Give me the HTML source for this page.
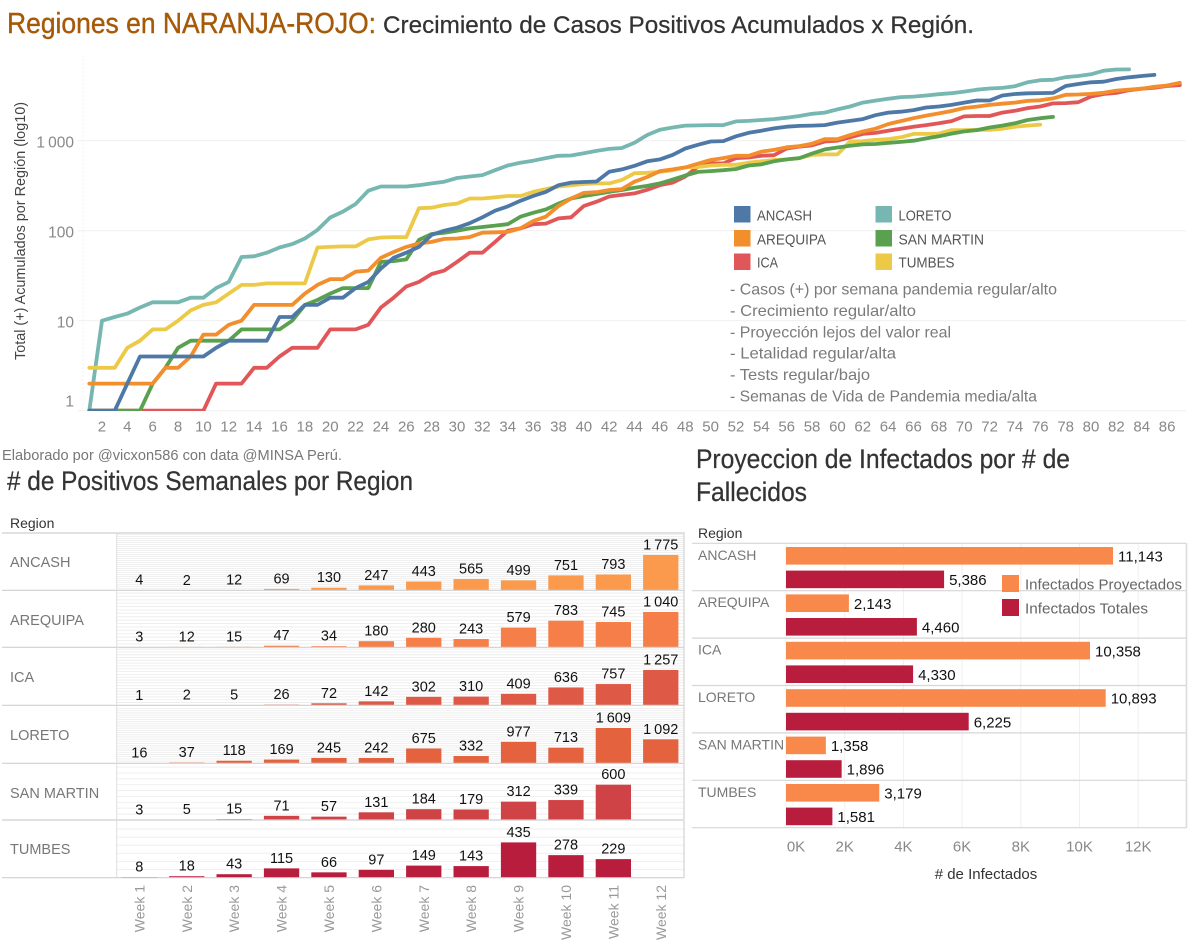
<!DOCTYPE html>
<html lang="es">
<head>
<meta charset="utf-8">
<title>Regiones en NARANJA-ROJO</title>
<style>
html,body{margin:0;padding:0;background:#fff;}
svg{display:block;font-family:"Liberation Sans",sans-serif;}
</style>
</head>
<body>
<svg id="dash" xmlns="http://www.w3.org/2000/svg" width="1200" height="948" viewBox="0 0 1200 948">
  <defs><clipPath id="plot-clip"><rect x="78" y="40" width="1112" height="371"/></clipPath></defs>
  <text x="7" y="33" font-size="29" fill="#a65a08" stroke="#a65a08" stroke-width="0.4" textLength="369" lengthAdjust="spacingAndGlyphs">Regiones en NARANJA-ROJO:</text>
  <text x="383" y="33" font-size="24.5" fill="#333" stroke="#333" stroke-width="0.25" textLength="591" lengthAdjust="spacingAndGlyphs">Crecimiento de Casos Positivos Acumulados x Región.</text>

  <g id="line-chart"></g>
  <text transform="translate(25,231) rotate(-90)" text-anchor="middle" font-size="14.5" fill="#444" textLength="258" lengthAdjust="spacingAndGlyphs">Total (+) Acumulados por Región (log10)</text>

  <g>
    <g><rect x="734" y="206" width="16.5" height="16.5" fill="#4e79a7"/><text x="757" y="220.500" font-size="15" fill="#555" textLength="55" lengthAdjust="spacingAndGlyphs">ANCASH</text></g>
    <g><rect x="734" y="230" width="16.5" height="16.5" fill="#f28e2b"/><text x="757" y="244.500" font-size="15" fill="#555" textLength="69" lengthAdjust="spacingAndGlyphs">AREQUIPA</text></g>
    <g><rect x="734" y="253.500" width="16.5" height="16.500" fill="#e15759"/><text x="757" y="267.500" font-size="15" fill="#555" textLength="21" lengthAdjust="spacingAndGlyphs">ICA</text></g>
    <g><rect x="875.500" y="206" width="16.5" height="16.5" fill="#76b7b2"/><text x="898.500" y="220.500" font-size="15" fill="#555" textLength="53" lengthAdjust="spacingAndGlyphs">LORETO</text></g>
    <g><rect x="875.500" y="230" width="16.5" height="16.5" fill="#59a14f"/><text x="898.500" y="244.500" font-size="15" fill="#555" textLength="85.500" lengthAdjust="spacingAndGlyphs">SAN MARTIN</text></g>
    <g><rect x="875.500" y="253.500" width="16.5" height="16.500" fill="#edc948"/><text x="898.500" y="267.500" font-size="15" fill="#555" textLength="56" lengthAdjust="spacingAndGlyphs">TUMBES</text></g>
  </g>

  <g font-size="16" fill="#7a7a7a">
    <text x="730" y="294.500" textLength="327" lengthAdjust="spacingAndGlyphs">- Casos (+) por semana pandemia regular/alto</text>
    <text x="730" y="316" textLength="186" lengthAdjust="spacingAndGlyphs">- Crecimiento regular/alto</text>
    <text x="730" y="337.500" textLength="221" lengthAdjust="spacingAndGlyphs">- Proyección lejos del valor real</text>
    <text x="730" y="358.500" textLength="166" lengthAdjust="spacingAndGlyphs">- Letalidad regular/alta</text>
    <text x="730" y="380" textLength="140" lengthAdjust="spacingAndGlyphs">- Tests regular/bajo</text>
    <text x="730" y="401.500" textLength="307" lengthAdjust="spacingAndGlyphs">- Semanas de Vida de Pandemia media/alta</text>
  </g>

  <text x="2" y="460" font-size="14.5" fill="#777" textLength="340" lengthAdjust="spacingAndGlyphs">Elaborado por @vicxon586 con data @MINSA Perú.</text>
  <text x="7" y="490" font-size="26.5" fill="#333" stroke="#333" stroke-width="0.25" textLength="406" lengthAdjust="spacingAndGlyphs"># de Positivos Semanales por Region</text>
  <text x="696" y="468" font-size="26.5" fill="#333" stroke="#333" stroke-width="0.25" textLength="374" lengthAdjust="spacingAndGlyphs">Proyeccion de Infectados por # de</text>
  <text x="696" y="501" font-size="26.5" fill="#333" stroke="#333" stroke-width="0.25" textLength="111" lengthAdjust="spacingAndGlyphs">Fallecidos</text>

  <g id="weekly-chart"></g>
  <g id="projection-chart"></g>

  <g>
    <g><rect x="1002" y="575" width="17" height="17" fill="#f9894a"/><text x="1025" y="589.500" font-size="15" fill="#666" textLength="157" lengthAdjust="spacingAndGlyphs">Infectados Proyectados</text></g>
    <g><rect x="1002" y="599" width="17" height="17" fill="#b81d3e"/><text x="1025" y="613.500" font-size="15" fill="#666" textLength="123" lengthAdjust="spacingAndGlyphs">Infectados Totales</text></g>
  </g>
</svg>

<script>
/* ---------- cumulative positives per day ---------- */
const ancashDaily = [
  1,1,1,2,4,4,4,4,4,4,
  5,6,6,6,6,11,11,15,15,18,
  18,23,27,38,50,57,66,90,100,108,
  121,141,167,186,215,243,270,320,342,348,
  352,453,480,526,590,620,695,820,900,980,
  990,1120,1225,1290,1370,1430,1460,1470,1490,1590,
  1660,1740,1920,2050,2100,2190,2340,2400,2500,2650,
  2800,2800,3180,3300,3360,3380,3400,4050,4265,4455,
  4525,4850,5060,5240,5386];
const arequipaDaily = [
  2,2,2,2,2,2,3,3,4,7,
  7,9,10,15,15,15,15,20,25,29,
  29,35,36,50,58,66,72,75,81,82,
  85,95,96,97,106,128,143,188,228,263,
  268,283,290,350,395,460,480,505,555,610,
  640,680,680,755,790,845,870,925,1040,1040,
  1155,1265,1360,1530,1650,1780,1900,2010,2140,2310,
  2390,2500,2580,2650,2770,2810,2950,3240,3260,3310,
  3410,3600,3700,3780,3970,4100,4400];
const icaDaily = [
  1,1,1,1,1,1,1,1,1,1,
  2,2,2,3,3,4,5,5,5,8,
  8,8,9,14,18,24,27,33,36,45,
  57,57,75,100,106,118,120,137,141,188,
  210,240,250,260,285,320,342,400,515,560,
  560,640,650,680,690,820,860,890,980,1000,
  1090,1190,1220,1290,1360,1430,1490,1560,1650,1860,
  1880,1880,2050,2150,2300,2400,2600,2620,2680,3100,
  3300,3400,3640,3780,3880,4050,4150];
const loretoDaily = [
  1,10,11,12,14,16,16,16,18,18,
  23,27,51,52,57,65,71,82,102,140,
  163,198,278,310,310,310,320,335,350,385,
  400,415,470,530,570,600,640,680,685,725,
  770,810,830,950,1156,1325,1400,1470,1480,1490,
  1490,1640,1660,1700,1740,1800,1880,1990,2050,2230,
  2400,2650,2790,2920,3050,3090,3180,3290,3370,3510,
  3690,3800,3860,4030,4450,4700,4750,5080,5230,5470,
  6000,6180,6190];
const sanMartinDaily = [
  1,1,1,1,1,2,3,5,6,6,
  6,6,8,8,8,8,10,15,17,20,
  23,23,23,45,46,48,79,92,95,100,
  106,110,114,118,143,158,172,200,228,243,
  256,270,283,300,315,335,370,410,450,460,
  470,485,530,545,590,620,640,720,800,840,
  880,910,920,945,970,1000,1060,1120,1200,1270,
  1310,1400,1470,1560,1700,1780,1840];
const tumbesDaily = [
  3,3,3,5,6,8,8,10,13,15,
  16,20,25,25,26,26,26,26,65,66,
  67,67,80,84,85,85,178,180,193,200,
  228,228,235,243,243,270,290,310,320,330,
  335,335,367,435,440,450,470,505,510,530,
  540,540,570,590,610,620,640,695,705,705,
  980,990,1020,1040,1090,1190,1190,1200,1310,1310,
  1320,1320,1360,1430,1470,1510];
const logTicks = [1,10,100,1000];
const dayTicks = [2,4,6,8,10,12,14,16,18,20,22,24,26,28,30,32,34,36,38,40,42,44,46,48,50,52,54,56,58,60,62,64,66,68,70,72,74,76,78,80,82,84,86];

/* ---------- weekly positives ---------- */
const weekLabels = ['Week 1','Week 2','Week 3','Week 4','Week 5','Week 6','Week 7','Week 8','Week 9','Week 10','Week 11','Week 12'];
const weeklyRegions = ['ANCASH','AREQUIPA','ICA','LORETO','SAN MARTIN','TUMBES'];
const weeklyAncash   = [4,2,12,69,130,247,443,565,499,751,793,1775];
const weeklyArequipa = [3,12,15,47,34,180,280,243,579,783,745,1040];
const weeklyIca      = [1,2,5,26,72,142,302,310,409,636,757,1257];
const weeklyLoreto   = [16,37,118,169,245,242,675,332,977,713,1609,1092];
const weeklySanMartin= [3,5,15,71,57,131,184,179,312,339,600];
const weeklyTumbes   = [8,18,43,115,66,97,149,143,435,278,229];

/* ---------- projection ---------- */
const projRegions = ['ANCASH','AREQUIPA','ICA','LORETO','SAN MARTIN','TUMBES'];
const projProyectados = [11143,2143,10358,10893,1358,3179];
const projTotales = [5386,4460,4330,6225,1896,1581];
const projTicks = [0,2000,4000,6000,8000,10000,12000];

const SVGNS = 'http://www.w3.org/2000/svg';
function mk(tag, attrs, parent, txt){
  const el = document.createElementNS(SVGNS, tag);
  for (const k in attrs) el.setAttribute(k, attrs[k]);
  if (txt !== undefined) el.textContent = txt;
  parent.appendChild(el);
  return el;
}

/* ========== LINE CHART ========== */
const lineG = document.getElementById('line-chart');
function xDay(d){ return 89.3 + 12.68 * (d - 1); }
function yLog(v){ return 410.7 - 90 * Math.log10(v); }
function spaced(v){
  if (v < 1000) return String(v);
  const r = String(v % 1000);
  return Math.floor(v / 1000) + '\u2009' + '000'.slice(r.length) + r;
}

const yAxisLine = mk('line', {x1:83, y1:55, x2:83, y2:411, stroke:'#f0f0f0', 'stroke-dasharray':'2 2'}, lineG);



logTicks.forEach(function(t){
  const grid = mk('line', {x1:78, x2:1186, y1:yLog(t), y2:yLog(t), stroke:'#f1f1f1', 'stroke-width':1.2}, lineG);
  
  
  const ty = t === 1 ? 406.5 : yLog(t) + 7;
  const lab = mk('text', {x:74, y:ty, 'text-anchor':'end', 'font-size':15.5, fill:'#888'}, lineG, spaced(t));
  
  
});

dayTicks.forEach(function(d){
  const lab = mk('text', {x:xDay(d), y:431.5, 'text-anchor':'middle', 'font-size':15, fill:'#888'}, lineG, String(d));
  
  
});

const lineSeries = [
  {key:'loreto', vals:loretoDaily, color:'#76b7b2'},
  {key:'ica', vals:icaDaily, color:'#e15759'},
  {key:'tumbes', vals:tumbesDaily, color:'#edc948'},
  {key:'san-martin', vals:sanMartinDaily, color:'#59a14f'},
  {key:'arequipa', vals:arequipaDaily, color:'#f28e2b'},
  {key:'ancash', vals:ancashDaily, color:'#4e79a7'}
];
const linesClip = mk('g', {'clip-path':'url(#plot-clip)'}, lineG);


lineSeries.forEach(function(s){
  const pts = s.vals.map(function(v, i){ return xDay(i + 1).toFixed(1) + ',' + yLog(v).toFixed(1); }).join(' ');
  const pl = mk('polyline', {points:pts, fill:'none', stroke:s.color, 'stroke-width':3.8, 'stroke-linejoin':'round', 'stroke-linecap':'round'}, linesClip);
  
  
});

/* ========== WEEKLY SMALL MULTIPLES ========== */
const weeklyG = document.getElementById('weekly-chart');
const weeklyRowData = [weeklyAncash, weeklyArequipa, weeklyIca, weeklyLoreto, weeklySanMartin, weeklyTumbes];
const weeklyRowColors = ['#fb9a4c','#f67e48','#de5a47','#e5623f','#cf4347','#b81d3e'];
const weeklyRowBaselines = [590.3,647.3,705.3,763.3,820,877.7];
const weeklyRowTops = [533,590.3,647.3,705.3,763.3,820];
const weeklyLabelY = [567,625,682,740,798,854];
function xWeek(i){ return 121.7 + 47.4 * i; }
const weekBarW = 35.3, weeklyMaxH = 35.3;

weeklyRowData.forEach(function(vals, r){
  const maxV = Math.max.apply(null, vals);
  const base = weeklyRowBaselines[r], top = weeklyRowTops[r];
  const scale = weeklyMaxH / maxV;
  for (let g = 100; base - g * scale > top + 1; g += 100){
    const gy = base - g * scale;
    const gl = mk('line', {x1:117, x2:684, y1:gy, y2:gy, stroke:'#eeeeee', 'stroke-width':0.9}, weeklyG);
    
    
  }
  const rl = mk('text', {x:10, y:weeklyLabelY[r], 'font-size':14.5, fill:'#777'}, weeklyG, weeklyRegions[r]);
  
  
  vals.forEach(function(v, i){
    const h = v * scale;
    const bar = mk('rect', {x:xWeek(i), y:base - h, width:weekBarW, height:h, fill:weeklyRowColors[r]}, weeklyG);
    
    
    const t = mk('text', {x:xWeek(i) + weekBarW / 2, y:base - h - 5.5, 'text-anchor':'middle', 'font-size':14.5, fill:'#111'}, weeklyG, spaced(v));
    
    
  });
});
[533,590.3,647.3,705.3,763.3,820,877.7].forEach(function(yy){
  const sep = mk('line', {x1:2, x2:684, y1:yy, y2:yy, stroke:'#cfcfcf', 'stroke-width':1.2}, weeklyG);
  
  
});
const wLeft = mk('line', {x1:116.7, x2:116.7, y1:533, y2:878, stroke:'#dddddd'}, weeklyG);


const wRight = mk('line', {x1:684, x2:684, y1:532, y2:878, stroke:'#ddd', 'stroke-width':1.6}, weeklyG);


const wRegion = mk('text', {x:10, y:528, 'font-size':14, fill:'#333'}, weeklyG, 'Region');


weekLabels.forEach(function(w, i){
  const cx = xWeek(i) + weekBarW / 2;
  const wl = mk('text', {transform:'translate(' + (cx + 5) + ',885) rotate(-90)', 'text-anchor':'end', 'font-size':14, fill:'#999'}, weeklyG, w);
  
  
});

/* ========== PROJECTION BARS ========== */
const projG = document.getElementById('projection-chart');
function xProj(v){ return 786 + v * 0.02935; }
function fmtComma(v){
  const r = String(v % 1000);
  return v >= 1000 ? Math.floor(v / 1000) + ',' + '000'.slice(r.length) + r : String(v);
}
const projRowH = 47.4, projTop = 543.3;
projTicks.forEach(function(t){
  const g = mk('line', {x1:xProj(t), x2:xProj(t), y1:544, y2:827, stroke:'#f0f0f0'}, projG);
  
  
  const lx = t === 0 ? xProj(t) + 10 : xProj(t);
  const lab = mk('text', {x:lx, y:851.5, 'text-anchor':'middle', 'font-size':15, fill:'#888'}, projG, (t / 1000) + 'K');
  
  
});
for (let r = 0; r <= projRegions.length; r++){
  const yy = projTop + r * projRowH;
  const sep = mk('line', {x1:692, x2:1186.5, y1:yy, y2:yy, stroke:'#d6d6d6', 'stroke-width':1.2}, projG);
  
  
}
const pRight = mk('line', {x1:1186.5, x2:1186.5, y1:543, y2:828, stroke:'#ddd', 'stroke-width':1.6}, projG);


projRegions.forEach(function(name, r){
  const rowY = projTop + r * projRowH;
  const rl = mk('text', {x:698, y:rowY + 16.5, 'font-size':14, fill:'#777'}, projG, name);
  
  
  [[projProyectados[r], '#f9894a', 3.7], [projTotales[r], '#b81d3e', 27.3]].forEach(function(b){
    const bar = mk('rect', {x:786, y:rowY + b[2], width:xProj(b[0]) - 786, height:17.6, fill:b[1]}, projG);
    
    
    const t = mk('text', {x:xProj(b[0]) + 5, y:rowY + b[2] + 14.5, 'font-size':15, fill:'#111'}, projG, fmtComma(b[0]));
    
    
  });
});
const pRegion = mk('text', {x:698, y:538, 'font-size':14, fill:'#333'}, projG, 'Region');


const pTitle = mk('text', {x:986, y:879, 'text-anchor':'middle', 'font-size':15, fill:'#333'}, projG, '# de Infectados');


</script>
</body>
</html>
